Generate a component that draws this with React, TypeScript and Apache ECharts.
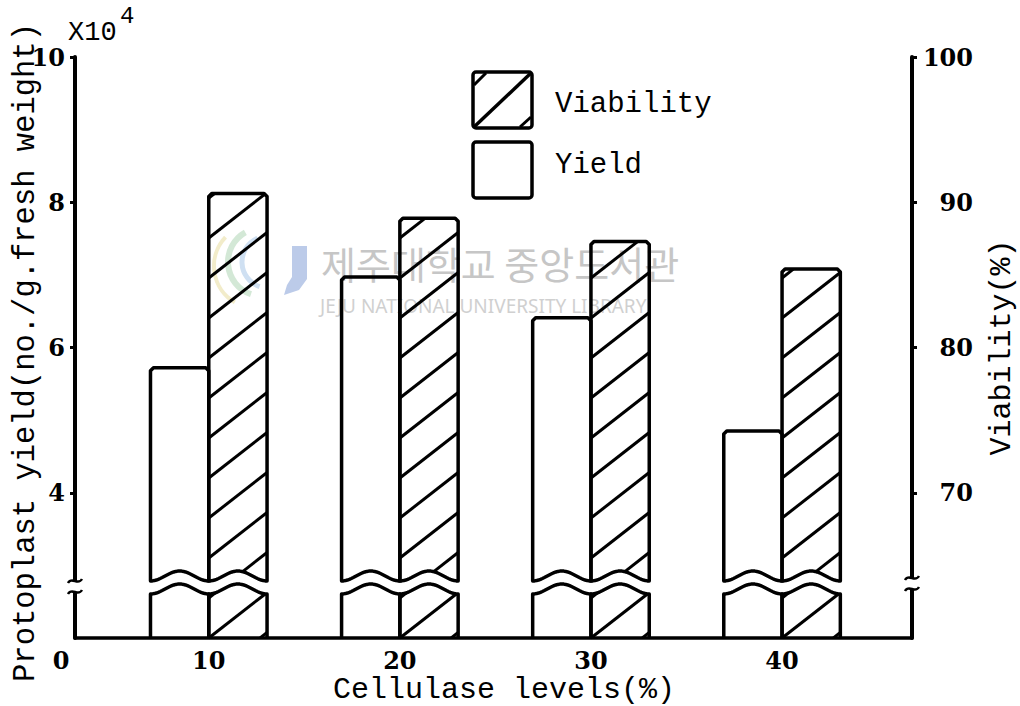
import React, { useEffect, useRef } from "react";
import * as echarts from "echarts";

// ---- data ----
const categories = [10, 20, 30, 40]; // Cellulase levels (%)
const yieldValues = [5.72, 6.97, 6.41, 4.85]; // x10^4 protoplasts / g fresh weight
const viabilityValues = [90.6, 88.9, 87.3, 85.4]; // %
const yieldTicks = [4, 6, 8, 10];
const viabilityTicks = [70, 80, 90, 100];
const xTicks = [10, 20, 30, 40];

// ---- layout / style ----
const W = 1020;
const H = 706;
const GRID = { left: 75, right: 108, top: 57, bottom: 68 };
const BAR_W = 3.05; // width of one bar, in x-axis units
const BREAK_UP = 57; // px above baseline: bottom edge of upper bar part
const BREAK_LO = 44; // px above baseline: top edge of lower bar part
const WAVE_A = 10;
const HATCH_SLOPE = 0.78;
const HATCH_GAP = 40;
const MONO = '"Liberation Mono", "DejaVu Sans Mono", monospace';
const SERIF = '"DejaVu Serif", serif';
const INK = "#000";

function makeRender(side: "left" | "right", hatched: boolean) {
  return (params: any, api: any) => {
    const cs = params.coordSys;
    const base = cs.y + cs.height;
    const x = api.value(0);
    const v = api.value(1);
    const p = api.coord([x, v]);
    const w = api.size([BAR_W, 0])[0];
    const xL = side === "left" ? p[0] - w : p[0];
    const xR = xL + w;
    const top = p[1];
    const yUe = base - BREAK_UP;
    const yLe = base - BREAK_LO;
    const wave = (xx: number, e: number) =>
      e - (WAVE_A * (1 - Math.cos((2 * Math.PI * (xx - xL)) / w))) / 2;
    const N = 30;
    const upper: number[][] = [
      [xL, wave(xL, yUe)],
      [xL, top + 3],
      [xL + 3, top],
      [xR - 3, top],
      [xR, top + 3],
    ];
    for (let i = N; i >= 0; i--) {
      const xx = xL + (w * i) / N;
      upper.push([xx, wave(xx, yUe)]);
    }
    const lower: number[][] = [[xL, base]];
    for (let i = 0; i <= N; i++) {
      const xx = xL + (w * i) / N;
      lower.push([xx, wave(xx, yLe)]);
    }
    lower.push([xR, base]);
    const outline = { fill: "none", stroke: INK, lineWidth: 3.5, lineJoin: "round" };
    const children: any[] = [];
    if (hatched) {
      const M = 160;
      const kMax = Math.ceil((base - top + w * HATCH_SLOPE) / HATCH_GAP) + 1;
      const seg = (a: number[], b: number[]) => ({
        type: "line",
        shape: { x1: a[0], y1: a[1], x2: b[0], y2: b[1] },
        style: { stroke: INK, lineWidth: 3, lineCap: "butt" },
      });
      const addRuns = (k: number, ok: (xx: number, yy: number) => boolean) => {
        let start: number[] | null = null;
        let last: number[] | null = null;
        for (let i = 0; i <= M; i++) {
          const xx = xL + (w * i) / M;
          const yy = base - k * HATCH_GAP - HATCH_SLOPE * (xx - xL);
          if (ok(xx, yy)) {
            if (!start) start = [xx, yy];
            last = [xx, yy];
          } else if (start && last) {
            children.push(seg(start, last));
            start = null;
            last = null;
          }
        }
        if (start && last) children.push(seg(start, last));
      };
      for (let k = -2; k <= kMax; k++) {
        addRuns(k, (xx, yy) => yy >= top && yy <= wave(xx, yUe));
        addRuns(k, (xx, yy) => yy >= wave(xx, yLe) && yy <= base);
      }
    }
    children.push({ type: "polygon", shape: { points: upper }, style: outline });
    children.push({ type: "polyline", shape: { points: lower }, style: outline });
    return { type: "group", children };
  };
}

function axisBreak(ax: number, y1: number, y2: number) {
  const curl = (y: number) => ({
    type: "bezierCurve",
    z: 101,
    shape: { x1: ax - 7, y1: y + 2, cpx1: ax - 3, cpy1: y - 5, cpx2: ax + 3, cpy2: y + 5, x2: ax + 7, y2: y - 2 },
    style: { stroke: INK, lineWidth: 2.5, fill: "none" },
  });
  return [
    { type: "rect", z: 100, shape: { x: ax - 4, y: y1, width: 8, height: y2 - y1 }, style: { fill: "#fff" } },
    curl(y1),
    curl(y2),
  ];
}

export default function App() {
  const ref = useRef<HTMLDivElement>(null);
  useEffect(() => {
    document.body.style.margin = "0";
    const chart = echarts.init(ref.current!, null, { renderer: "svg" });
    const base = H - GRID.bottom;
    const leftX = GRID.left;
    const rightX = W - GRID.right;
    const tickLabel = { fontFamily: SERIF, fontWeight: "bold", fontSize: 24, color: INK, lineHeight: 24 };
    const option: any = {
      animation: false,
      backgroundColor: "#fff",
      grid: { ...GRID, containLabel: false, outerBoundsMode: "none" },
      xAxis: {
        type: "value",
        min: 3,
        max: 46.8,
        name: "Cellulase levels(%)",
        nameLocation: "middle",
        nameGap: 37,
        nameMoveOverlap: false,
        nameTextStyle: { fontFamily: MONO, fontSize: 30, lineHeight: 30, color: INK, padding: [0, 0, 0, 21] },
        axisLine: { show: true, onZero: false, lineStyle: { color: INK, width: 3.5 } },
        axisTick: { show: false },
        splitLine: { show: false },
        axisLabel: { ...tickLabel, margin: 10, customValues: xTicks },
      },
      yAxis: [
        {
          type: "value",
          min: 2,
          max: 10,
          position: "left",
          name: "Protoplast yield(no./g.fresh weight)",
          nameLocation: "middle",
          nameGap: 34,
          nameMoveOverlap: false,
          nameTextStyle: { fontFamily: MONO, fontSize: 30.5, lineHeight: 31, color: INK, padding: [0, 10, 0, 0] },
          axisLine: { show: true, onZero: false, lineStyle: { color: INK, width: 4 } },
          axisTick: { show: true, length: 5, customValues: yieldTicks, lineStyle: { color: INK, width: 3 } },
          splitLine: { show: false },
          axisLabel: { ...tickLabel, margin: 10, customValues: yieldTicks },
        },
        {
          type: "value",
          min: 60,
          max: 100,
          position: "right",
          name: "Viability(%)",
          nameLocation: "middle",
          nameGap: 75,
          nameRotate: 90,
          nameMoveOverlap: false,
          nameTextStyle: { fontFamily: MONO, fontSize: 30, lineHeight: 30, color: INK },
          axisLine: { show: true, onZero: false, lineStyle: { color: INK, width: 4 } },
          axisTick: { show: true, length: 5, customValues: viabilityTicks, lineStyle: { color: INK, width: 3 } },
          splitLine: { show: false },
          axisLabel: { ...tickLabel, margin: 61, align: "right", customValues: viabilityTicks },
        },
      ],
      series: [
        {
          type: "custom",
          name: "Yield",
          xAxisIndex: 0,
          yAxisIndex: 0,
          encode: { x: 0, y: 1 },
          data: categories.map((c, i) => [c, yieldValues[i]]),
          renderItem: makeRender("left", false),
          z: 5,
        },
        {
          type: "custom",
          name: "Viability",
          xAxisIndex: 0,
          yAxisIndex: 1,
          encode: { x: 0, y: 1 },
          data: categories.map((c, i) => [c, viabilityValues[i]]),
          renderItem: makeRender("right", true),
          z: 5,
        },
      ],
      graphic: [
        // watermark
        {
          type: "text",
          z: 0,
          left: 321,
          top: 243,
          style: { text: "제주대학교 중앙도서관", font: '38px "Noto Sans CJK KR"', fill: "#c6c6c6" },
        },
        {
          type: "text",
          z: 0,
          left: 320,
          top: 296,
          style: { text: "JEJU NATIONAL UNIVERSITY LIBRARY", font: '19px "Noto Sans"', fill: "#d0d0d0" },
        },
        {
          type: "polygon",
          z: 0,
          shape: { points: [[292, 246], [307, 246], [307, 279], [299, 290], [284, 295], [287, 285], [292, 277]] },
          style: { fill: "#bccbe9" },
        },
        { type: "arc", z: 0, shape: { cx: 262, cy: 262, r: 34, startAngle: 1.9, endAngle: 4.2 }, style: { stroke: "#d3e8d6", lineWidth: 6, fill: "none" } },
        { type: "arc", z: 0, shape: { cx: 268, cy: 262, r: 26, startAngle: 1.9, endAngle: 4.3 }, style: { stroke: "#cfe0f2", lineWidth: 5, fill: "none" } },
        { type: "arc", z: 0, shape: { cx: 256, cy: 266, r: 42, startAngle: 2.1, endAngle: 3.9 }, style: { stroke: "#f2ecca", lineWidth: 4, fill: "none" } },
        // axis breaks
        ...axisBreak(leftX, base - 57, base - 46),
        ...axisBreak(rightX, base - 60, base - 49),
        // extra labels
        {
          type: "text",
          z: 10,
          x: 61,
          y: base + 22,
          style: { text: "0", font: `bold 24px ${SERIF}`, fill: INK, align: "center", verticalAlign: "middle" },
        },
        {
          type: "text",
          z: 10,
          x: 68,
          y: 33,
          style: { text: "X10", font: `27px ${MONO}`, fill: INK, verticalAlign: "middle" },
        },
        {
          type: "text",
          z: 10,
          x: 120,
          y: 16,
          style: { text: "4", font: `24px ${MONO}`, fill: INK, verticalAlign: "middle" },
        },
        // legend
        {
          type: "rect",
          z: 10,
          shape: { x: 473, y: 72, width: 59, height: 56, r: 3 },
          style: { fill: "#fff", stroke: INK, lineWidth: 3.5 },
        },
        { type: "line", z: 11, shape: { x1: 474, y1: 127, x2: 531, y2: 73 }, style: { stroke: INK, lineWidth: 3.5 } },
        { type: "line", z: 11, shape: { x1: 474, y1: 85, x2: 486, y2: 73 }, style: { stroke: INK, lineWidth: 3 } },
        { type: "line", z: 11, shape: { x1: 520, y1: 127, x2: 531, y2: 117 }, style: { stroke: INK, lineWidth: 3 } },
        {
          type: "rect",
          z: 10,
          shape: { x: 473, y: 142, width: 59, height: 56, r: 3 },
          style: { fill: "#fff", stroke: INK, lineWidth: 3.5 },
        },
        {
          type: "text",
          z: 10,
          x: 555,
          y: 104,
          style: { text: "Viability", font: `29px ${MONO}`, fill: INK, verticalAlign: "middle" },
        },
        {
          type: "text",
          z: 10,
          x: 555,
          y: 165,
          style: { text: "Yield", font: `29px ${MONO}`, fill: INK, verticalAlign: "middle" },
        },
      ],
    };
    chart.setOption(option);
    return () => chart.dispose();
  }, []);
  return <div ref={ref} style={{ width: W, height: H }} />;
}
